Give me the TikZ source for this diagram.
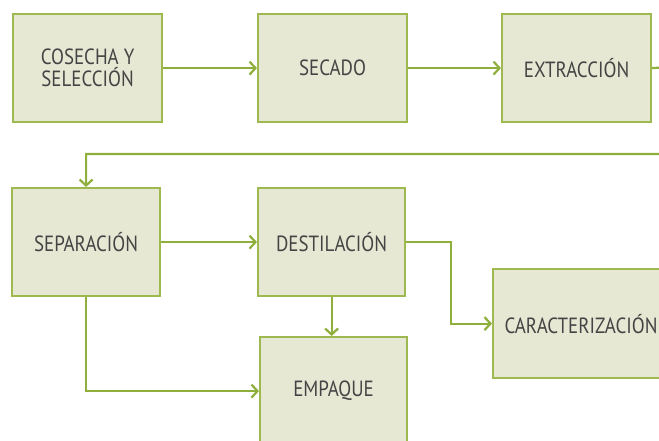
\documentclass[tikz,border=0pt]{standalone}
\usepackage{fontspec}
\setmainfont[FakeStretch=0.86]{PT Sans}
\usetikzlibrary{arrows.meta}
\definecolor{boxfill}{HTML}{E6E8D4}
\definecolor{boxline}{HTML}{9DB94F}
\definecolor{arrowc}{HTML}{8FAF3C}
\definecolor{txt}{HTML}{444444}
\begin{document}
\begin{tikzpicture}[x=1pt,y=-1pt,
  stage/.style={draw=boxline, fill=boxfill, line width=2.2pt, text=txt,
    font=\fontsize{22}{22}\selectfont, align=center, anchor=north west,
    inner sep=0pt, minimum width=149pt, minimum height=108pt},
  flow/.style={draw=arrowc, line width=2.2pt, -{Straight Barb[length=6pt,width=13pt]}}]
\clip (0,0) rectangle (659,441);
\node[stage] (cos) at (12,13) {COSECHA Y\\SELECCIÓN};
\node[stage] (sec) at (257,13) {SECADO};
\node[stage] (ext) at (501,13) {EXTRACCIÓN};
\node[stage, minimum width=148pt] (sep) at (11,187) {SEPARACIÓN};
\node[stage, minimum width=147pt] (des) at (257,187) {DESTILACIÓN};
\node[stage, minimum width=147pt] (emp) at (259,336) {EMPAQUE};
\node[stage, minimum width=176pt, minimum height=109pt] (car) at (492,268) {CARACTERIZACIÓN};
\coordinate (t1) at (670,67);
\coordinate (t2) at (670,154);
\draw[flow] (cos.east) -- (sec.west);
\draw[flow] (sec.east) -- (ext.west);
\draw[flow] (ext.east) -- (t1) -- (t2) -| (sep.north);
\draw[flow] (sep.east) -- (des.west);
\draw[flow] (sep.south) |- (emp.west);
\draw[flow] (des.south) -- (des.south |- emp.north);
\draw[flow] (des.east) -- ++(45,0) |- (car.west);
\end{tikzpicture}
\end{document}
